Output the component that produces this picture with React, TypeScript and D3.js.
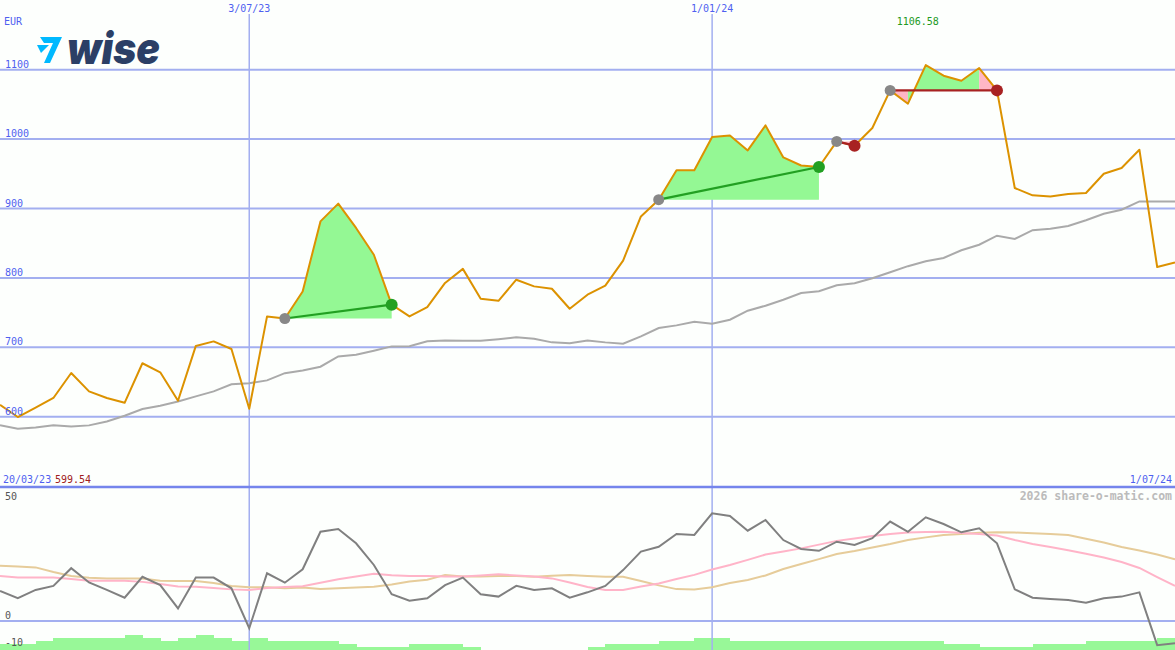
import React from "react";
import * as d3 from "d3";

// ---- data (weekly, index 0 = 27/03/23) ----
const price = [617, 599.5, 613, 627, 663, 636.5, 627, 620, 677, 664, 623, 702, 708.5, 697.6, 611.5, 744.5, 741.5, 780.5, 881.4, 907, 872, 833.4, 761.4, 744.5, 758, 792.7, 813, 770, 767, 797.4, 787.8, 784.4, 755.6, 775.8, 788.8, 825, 888.6, 912.7, 955, 955, 1003, 1005.3, 983.7, 1019.7, 973.6, 962, 959.8, 996.7, 990.5, 1016, 1070.2, 1051, 1106.6, 1091.4, 1084, 1102.4, 1070.2, 929.5, 919, 917.4, 921, 922.3, 950, 958.4, 984.7, 815.7, 822.3];
const movingAvg = [587.8, 582.7, 584.6, 587.5, 586, 587.5, 593.2, 601.4, 611.1, 615.9, 622, 629.3, 636.5, 646.8, 648.3, 652.3, 662.7, 666.7, 672, 686.9, 689.3, 695.1, 701.3, 701.6, 708.8, 709.9, 709.5, 709.5, 711.7, 714.3, 712.4, 707.1, 705.9, 709.9, 707.1, 705.2, 715.7, 727.8, 731.6, 736.9, 734, 739.8, 752.7, 759.9, 768.6, 778.2, 780.8, 789.5, 792.4, 799.6, 808.2, 816.9, 824.1, 828.7, 839.9, 847.8, 860.8, 856.1, 868.7, 870.9, 874.8, 883.1, 892.5, 898.3, 910.2, 910.2, 910.2];
const oscillator = [11.2, 8.5, 11.6, 13.1, 19.7, 14.4, 11.6, 8.7, 16.5, 13.4, 4.7, 16.2, 16.2, 12.2, -2.7, 17.8, 14.3, 19.3, 33.3, 34.3, 29, 20.9, 10, 7.6, 8.5, 13.4, 16.2, 10, 9.1, 13.1, 11.6, 12.2, 8.7, 10.7, 13.1, 19, 25.9, 27.7, 32.5, 32.1, 40.2, 39.2, 33.7, 37.7, 30.2, 26.9, 26.2, 29.6, 28.4, 30.9, 37.1, 33.3, 38.7, 36.2, 33.1, 34.6, 29, 11.8, 8.7, 8.2, 7.8, 6.8, 8.5, 9.1, 10.7, -9, -8.3];
const pinkAvg = [16.8, 16.2, 16.2, 16.2, 15.7, 15.0, 15.0, 15.0, 14.6, 13.8, 12.9, 12.8, 12.3, 11.8, 11.6, 12.3, 12.7, 13.0, 14.3, 15.6, 16.6, 17.6, 17.1, 16.8, 16.8, 16.6, 16.6, 17.0, 17.4, 17.0, 16.6, 15.9, 14.4, 12.7, 11.6, 11.6, 12.9, 14.0, 15.7, 17.2, 19.2, 20.9, 22.8, 24.8, 25.9, 27.1, 28.5, 29.9, 30.8, 31.7, 32.5, 33.0, 33.2, 33.3, 32.8, 32.5, 31.9, 30.2, 28.7, 27.6, 26.4, 25.1, 23.7, 22.0, 19.8, 16.4, 13.1];
const tanAvg = [20.6, 20.3, 20.0, 18.3, 16.8, 16.1, 15.9, 15.9, 15.9, 15.0, 14.9, 14.9, 14.2, 13.1, 12.6, 12.6, 12.2, 12.5, 11.9, 12.2, 12.5, 12.8, 13.6, 14.7, 15.4, 17.2, 16.6, 16.6, 16.8, 16.8, 16.5, 16.9, 17.2, 16.8, 16.5, 16.5, 14.9, 13.3, 11.9, 11.8, 12.6, 14.2, 15.3, 17.0, 19.4, 21.3, 23.1, 25.0, 26.1, 27.4, 28.7, 30.2, 31.2, 32.1, 32.5, 32.9, 33.1, 33.0, 32.7, 32.5, 32.1, 30.7, 29.3, 27.6, 26.3, 24.8, 23.0];
const histLevel = [2, 2, 3, 4, 4, 4, 4, 5, 4, 3, 4, 5, 4, 3, 4, 3, 3, 3, 3, 2, 1, 1, 1, 2, 2, 2, 1, 0, 0, 0, 0, 0, 0, 1, 2, 2, 2, 3, 3, 4, 4, 3, 3, 3, 3, 3, 3, 3, 3, 3, 3, 3, 3, 2, 2, 1, 1, 1, 2, 2, 2, 3, 3, 3, 3, 4, 4];

const trades = [
  { entry: 16, exit: 22, win: true, seg: ["g", "g", "g", "g", "g", "g"] },
  { entry: 37, exit: 46, win: true, seg: ["g", "g", "g", "g", "g", "g", "g", "g", "g"] },
  { entry: 47, exit: 48, win: false, seg: ["p"] },
  { entry: 50, exit: 56, win: false, seg: ["p", "g", "g", "g", "g", "p"] },
];

const priceTicks = [600, 700, 800, 900, 1000, 1100];
const dateTickIdx = [14, 40];
const dateTickLabels = ["3/07/23", "1/01/24"];
const lowerTicks = [50, 0, -10];

const W = 1175;
const H = 650;
const MONO = "'DejaVu Sans Mono', monospace";

function runs(seg: string[]) {
  // group contiguous segments with the same colour
  const out: { start: number; end: number; c: string }[] = [];
  seg.forEach((c, k) => {
    const last = out[out.length - 1];
    if (last && last.c === c) last.end = k + 1;
    else out.push({ start: k, end: k + 1, c });
  });
  return out;
}

export default function App() {
  const n = price.length;
  const x = d3.scaleLinear().domain([0, n - 1]).range([0, W]);
  const yP = d3.scaleLinear().domain([600, 1100]).range([416.7, 69.7]);
  const yL = d3.scaleLinear().domain([-10, 50]).range([647.8, 487]);
  const yH = d3.scaleLinear().domain([0, 5]).range([650, 635]);

  const idx = d3.range(n);
  const lineP = d3.line<number>().x((i) => x(i)).y((i) => yP(price[i]));
  const lineMA = d3.line<number>().x((i) => x(i)).y((i) => yP(movingAvg[i]));
  const lineOsc = d3.line<number>().x((i) => x(i)).y((i) => yL(oscillator[i]));
  const linePink = d3.line<number>().x((i) => x(i)).y((i) => yL(pinkAvg[i]));
  const lineTan = d3.line<number>().x((i) => x(i)).y((i) => yL(tanAvg[i]));

  const maxI = d3.maxIndex(price);
  const minI = d3.minIndex(price);

  const gridCol = "#a3aff0";
  const blue = "#4f5ff0";

  return (
    <svg
      width={W}
      height={H}
      style={{ position: "absolute", left: 0, top: 0, background: "#fdfffd" }}
    >
      <defs>
        <clipPath id="clipAll">
          <rect x={0} y={0} width={W} height={H} />
        </clipPath>
      </defs>
      <rect x={0} y={0} width={W} height={H} fill="#fdfffd" />

      {/* histogram */}
      <g clipPath="url(#clipAll)" shapeRendering="crispEdges">
        {idx.map((i) =>
          histLevel[i] > 0 ? (
            <rect
              key={"h" + i}
              x={x(i)}
              y={yH(histLevel[i])}
              width={x(i + 1) - x(i) + 0.5}
              height={650 - yH(histLevel[i])}
              fill="#98f898"
            />
          ) : null
        )}
      </g>

      {/* horizontal grid */}
      {priceTicks.map((t) => (
        <line key={"g" + t} x1={0} x2={W} y1={yP(t)} y2={yP(t)} stroke={gridCol} strokeWidth={2} />
      ))}
      <line x1={0} x2={W} y1={yL(0)} y2={yL(0)} stroke={gridCol} strokeWidth={2} />
      {/* vertical grid */}
      {dateTickIdx.map((d) => (
        <line key={"v" + d} x1={x(d)} x2={x(d)} y1={14} y2={H} stroke={gridCol} strokeWidth={1.5} />
      ))}
      {/* panel divider */}
      <line x1={0} x2={W} y1={487} y2={487} stroke="#7585ec" strokeWidth={2.5} />

      {/* trade fills */}
      {trades.map((t, ti) =>
        runs(t.seg).map((r, k) => {
          const area = d3
            .area<number>()
            .x((i) => x(i))
            .y0(yP(price[t.entry]))
            .y1((i) => yP(price[i]));
          return (
            <path
              key={"f" + ti + "_" + k}
              d={area(d3.range(t.entry + r.start, t.entry + r.end + 1)) || ""}
              fill={r.c === "g" ? "#94f894" : "#ffb6c6"}
              stroke="none"
            />
          );
        })
      )}

      {/* moving average */}
      <path d={lineMA(idx) || ""} fill="none" stroke="#aaaaaa" strokeWidth={2} />
      {/* price */}
      <path d={lineP(idx) || ""} fill="none" stroke="#dc9200" strokeWidth={2} strokeLinejoin="round" />

      {/* trade lines & dots */}
      {trades.map((t, ti) => (
        <g key={"t" + ti}>
          <line
            x1={x(t.entry)}
            y1={yP(price[t.entry])}
            x2={x(t.exit)}
            y2={yP(price[t.exit])}
            stroke={t.win ? "#22a022" : "#a82222"}
            strokeWidth={2.2}
          />
          <circle cx={x(t.entry)} cy={yP(price[t.entry])} r={5.5} fill="#888888" />
          <circle cx={x(t.exit)} cy={yP(price[t.exit])} r={6} fill={t.win ? "#22a022" : "#a82222"} />
        </g>
      ))}

      {/* lower panel lines */}
      <path d={lineTan(idx) || ""} fill="none" stroke="#e6cc9a" strokeWidth={2} />
      <path d={linePink(idx) || ""} fill="none" stroke="#ffb4c8" strokeWidth={2} />
      <path d={lineOsc(idx) || ""} fill="none" stroke="#808080" strokeWidth={2} />

      {/* texts */}
      <g fontFamily={MONO} fontSize={10}>
        <text x={4} y={25} fill={blue}>EUR</text>
        {priceTicks.map((t) => (
          <text key={"pt" + t} x={5} y={yP(t) - 2} fill={blue}>
            {t}
          </text>
        ))}
        {dateTickIdx.map((d, k) => (
          <text key={"dt" + d} x={x(d)} y={12} fill={blue} textAnchor="middle">
            {dateTickLabels[k]}
          </text>
        ))}
        <text x={x(maxI) - 29} y={25} fill="#229a22">
          {price[maxI] === 1106.6 ? "1106.58" : price[maxI].toFixed(2)}
        </text>
        <text x={3} y={482.5} fill={blue}>20/03/23</text>
        <text x={55} y={482.5} fill="#a02020">
          {price[minI] === 599.5 ? "599.54" : price[minI].toFixed(2)}
        </text>
        <text x={1172} y={482.5} fill={blue} textAnchor="end">1/07/24</text>
        {lowerTicks.map((t) => (
          <text
            key={"lt" + t}
            x={5}
            y={t === 50 ? 500 : yL(t) - 2}
            fill="#555555"
          >
            {t}
          </text>
        ))}
        <text x={1172} y={500} fill="#bbbbbb" textAnchor="end" fontWeight="bold" fontSize={11.5}>
          2026 share-o-matic.com
        </text>
      </g>

      {/* logo */}
      <g>
        <path d="M40,37 L62,37 L50,63 L44,63 L53,43 L44,43 Z" fill="#00b9ff" />
        <path d="M37,45 L49,45 L41,53 Z" fill="#00b9ff" />
        <text
          x={67}
          y={64}
          fontFamily="Inter, 'Open Sans', sans-serif"
          fontWeight={900}
          fontStyle="italic"
          fontSize={44}
          fill="#2b3f66"
          textLength={93}
          lengthAdjust="spacingAndGlyphs"
        >
          wise
        </text>
      </g>
    </svg>
  );
}
